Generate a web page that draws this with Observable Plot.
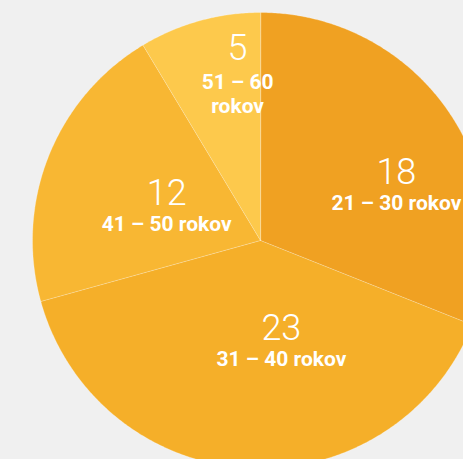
<!DOCTYPE html>
<html>
<head>
<meta charset="utf-8">
<script src="https://cdn.jsdelivr.net/npm/d3@7"></script>
<script src="https://cdn.jsdelivr.net/npm/@observablehq/plot@0.6"></script>
<style>
  html, body { margin: 0; padding: 0; background: #f0f0f0; overflow: hidden; }
  #chart svg { display: block; }
</style>
</head>
<body>
<div id="chart"></div>
<script>
// ---- data ----
const categories = ["21 – 30 rokov", "31 – 40 rokov", "41 – 50 rokov", "51 – 60 rokov"];
const values = [18, 23, 12, 5];
const colors = ["#f0a122", "#f5af29", "#f8b733", "#fdc94c"];

// ---- layout ----
const W = 463, H = 459;
const CX = 260, CY = 240, R = 228;
// label anchor tweak (angle offset in degrees, radius in px) per slice
const labelPolar = [[7.5, 152], [-16.5, 90], [5, 105], [8.7, 193]];

const arcs = d3.pie().sort(null).value(d => d)(values);

const pts = [];
arcs.forEach((a, i) => {
  const n = Math.max(8, Math.ceil((a.endAngle - a.startAngle) * 120));
  pts.push({cat: categories[i], x: 0, y: 0});
  for (let k = 0; k <= n; k++) {
    const t = a.startAngle + (a.endAngle - a.startAngle) * k / n;
    pts.push({cat: categories[i], x: R * Math.sin(t), y: R * Math.cos(t)});
  }
});

const labels = arcs.map((a, i) => {
  const mid = (a.startAngle + a.endAngle) / 2 + labelPolar[i][0] * Math.PI / 180;
  const r = labelPolar[i][1];
  return {
    cat: categories[i],
    value: values[i],
    span: a.endAngle - a.startAngle,
    x: r * Math.sin(mid),
    y: r * Math.cos(mid)
  };
});

const font = "Roboto, 'Noto Sans', sans-serif";

const chart = Plot.plot({
  width: W,
  height: H,
  margin: 0,
  x: {domain: [-CX, W - CX], axis: null},
  y: {domain: [-(H - CY), CY], axis: null},
  color: {domain: categories, range: colors},
  style: {background: "transparent", fontFamily: font},
  marks: [
    Plot.line(pts, {x: "x", y: "y", z: "cat", fill: "cat", stroke: "white", strokeOpacity: 0.25, strokeWidth: 1, curve: "linear-closed"}),
    Plot.text(labels, {x: "x", y: "y", text: d => String(d.value), fill: "white", fontSize: 36, fontWeight: 300, lineAnchor: "middle"}),
    Plot.text(labels.filter(d => d.span > 0.6), {x: "x", y: "y", text: "cat", fill: "white", fontSize: 21, fontWeight: "bold", lineAnchor: "top", dy: 23}),
    Plot.text(labels.filter(d => d.span <= 0.6), {x: "x", y: "y", text: "cat", fill: "white", fontSize: 21, fontWeight: "bold", lineAnchor: "top", dy: 23, lineWidth: 4, lineHeight: 1.15})
  ]
});
document.getElementById("chart").appendChild(chart);
</script>
</body>
</html>
